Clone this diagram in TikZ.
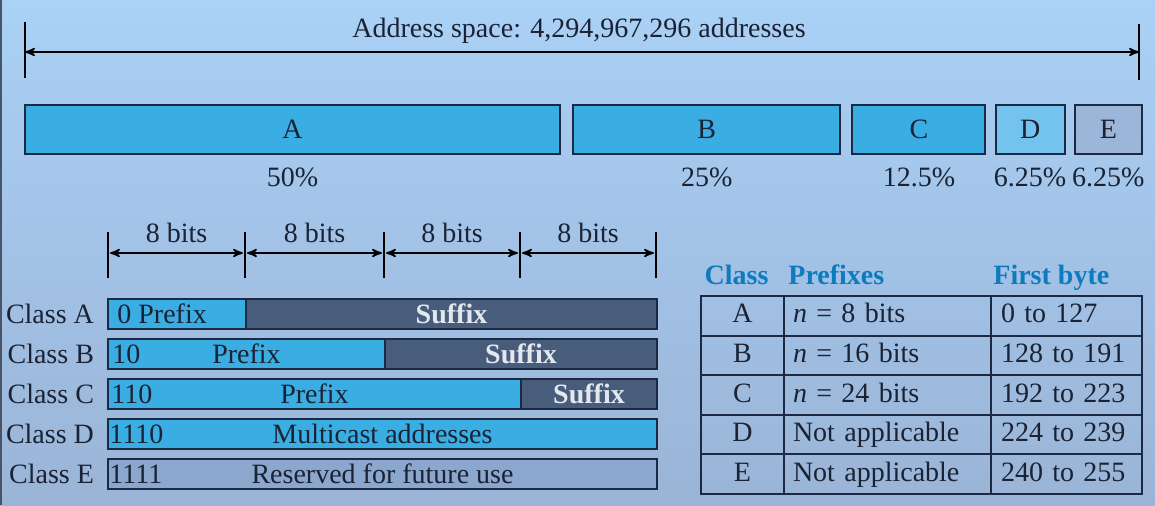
\documentclass[tikz,border=0pt]{standalone}
\usepackage{fontspec}
\setmainfont{Liberation Serif}
\usepackage{tikz}
\usetikzlibrary{arrows,positioning,matrix}

\definecolor{bgtop}{HTML}{AAD1F6}
\definecolor{bgbot}{HTML}{9AB4D6}
\definecolor{navy}{HTML}{1B2942}
\definecolor{cyanbar}{HTML}{3AADE3}
\definecolor{lightbar}{HTML}{74C2EE}
\definecolor{greybar}{HTML}{9CB6DA}
\definecolor{greyrow}{HTML}{8BA7CE}
\definecolor{slate}{HTML}{485C7C}
\definecolor{suftext}{HTML}{E3E8EF}
\definecolor{hdrblue}{HTML}{0F7BBE}
\definecolor{ink}{HTML}{1A2233}

\tikzset{
  bar/.style={rectangle, draw=navy, line width=1pt, minimum height=24.5pt, inner sep=0pt, anchor=north west},
  field/.style={rectangle, draw=navy, line width=1pt, minimum height=15pt, inner sep=0pt, anchor=north west},
  txt/.style={inner sep=0pt, text=ink},
  suffix/.style={inner sep=0pt, text=suftext, font=\fontsize{14}{17}\selectfont\bfseries},
  hdr/.style={text=hdrblue, inner sep=1pt, text height=10pt, text depth=3pt, font=\fontsize{14}{17}\selectfont\bfseries},
  cell/.style={draw=navy, line width=1pt, minimum height=19.8pt, inner sep=0pt, text height=10pt, text depth=3pt, text=ink, anchor=center},
}

\begin{document}
\begin{tikzpicture}[x=0.5pt, y=-0.5pt, font=\fontsize{14}{17}\selectfont, text=ink, >=stealth']

  % Background
  \fill[top color=bgtop, bottom color=bgbot] (0,0) rectangle (1155,505);
  \fill[navy!80] (0,0) rectangle (2,505);
  \useasboundingbox (0,0) rectangle (1155,505);

  % Address space
  \coordinate (L) at (25,52);
  \coordinate (R) at (1139,52);
  \draw[line width=0.8pt] (25,22) -- (25,78);
  \draw[line width=0.8pt] (1139,24) -- (1139,80);
  \draw[<->, line width=0.8pt] (L) -- (R);
  \node (space) at (579,31) {Address space: 4,294,967,296 addresses};

  % Define class blocks
  \node[bar, fill=cyanbar, minimum width=267.5pt] (A) at (24,104) {A};
  \node[bar, fill=cyanbar, minimum width=133.5pt, right=5.6pt of A] (B) {B};
  \node[bar, fill=cyanbar, minimum width=66.5pt, right=5.1pt of B] (C) {C};
  \node[bar, fill=lightbar, minimum width=34.5pt, right=4.1pt of C] (D) {D};
  \node[bar, fill=greybar, minimum width=33.5pt, right=4.1pt of D] (E) {E};

  \node[below=3pt of A] (pcA) {50\%};
  \node[below=3pt of B] (pcB) {25\%};
  \node[below=3pt of C] (pcC) {12.5\%};
  \node[below=3pt of D] (pcD) {6.25\%};
  \node[below=3pt of E] (pcE) {6.25\%};

  % Bytes
  \foreach \x [count=\i] in {108,245,384,520,656} {
    \draw[line width=0.8pt] (\x,232) -- (\x,278);
    \coordinate (t\i) at (\x,253);
  }
  \foreach \i/\j in {1/2,2/3,3/4,4/5}
    \draw[<->, line width=0.8pt] ([xshift=1pt]t\i) -- ([xshift=-1pt]t\j) node[midway, above=1.5pt] {8 bits};

  % Class A
  \node[field, fill=cyanbar, minimum width=69pt] (pA) at (107,298) {};
  \node[field, fill=slate, minimum width=205.5pt, right=-1pt of pA] (sA) {};
  \node[left=3pt of pA] (cA) {Class A};
  \node[txt, right=5pt of pA.west] {0 Prefix};
  \node[suffix] at (sA) {Suffix};

  % Class B
  \node[field, fill=cyanbar, minimum width=138.5pt] (pB) at (107,338) {};
  \node[field, fill=slate, minimum width=136pt, right=-1pt of pB] (sB) {};
  \node[left=3pt of pB] (cB) {Class B};
  \node[txt, right=2.5pt of pB.west] {10};
  \node[txt] at (pB) {Prefix};
  \node[suffix] at (sB) {Suffix};

  % Class C
  \node[field, fill=cyanbar, minimum width=206.5pt] (pC) at (107,378) {};
  \node[field, fill=slate, minimum width=68pt, right=-1pt of pC] (sC) {};
  \node[left=3pt of pC] (cC) {Class C};
  \node[txt, right=2pt of pC.west] {110};
  \node[txt] at (pC) {Prefix};
  \node[suffix] at (sC) {Suffix};

  % Class D
  \node[field, fill=cyanbar, minimum width=274.5pt] (rD) at (107,418) {};
  \node[left=3pt of rD] (cD) {Class D};
  \node[txt, right=1pt of rD.west] {1110};
  \node[txt] at (rD) {Multicast addresses};

  % Class E
  \node[field, fill=greyrow, minimum width=274.5pt] (rE) at (107,458) {};
  \node[left=3pt of rE] (cE) {Class E};
  \node[txt, right=1pt of rE.west] {1111};
  \node[txt] at (rE) {Reserved for future use};

  % Table
  \matrix (tbl) [matrix of nodes, anchor=north west, inner sep=0pt, outer sep=0pt,
    column sep=-1pt, row sep=-1pt,
    nodes={cell},
    column 1/.style={nodes={minimum width=41.5pt}},
    column 2/.style={nodes={text width=94.5pt, inner xsep=4.5pt, align=left}},
    column 3/.style={nodes={text width=65.5pt, inner xsep=5pt, align=left}}] at (700,295) {
    A & \textit{n} = 8 bits  & 0 to 127   \\
    B & \textit{n} = 16 bits & 128 to 191 \\
    C & \textit{n} = 24 bits & 192 to 223 \\
    D & Not applicable       & 224 to 239 \\
    E & Not applicable       & 240 to 255 \\
  };

  \node[hdr, above=1.5pt of tbl-1-1, xshift=-3pt] (hClass) {Class};
  \node[hdr, above right=1.5pt and 1pt of tbl-1-2.north west] (hPre) {Prefixes};
  \node[hdr, above right=1.5pt and 0pt of tbl-1-3.north west] (hByte) {First byte};

\end{tikzpicture}
\end{document}
